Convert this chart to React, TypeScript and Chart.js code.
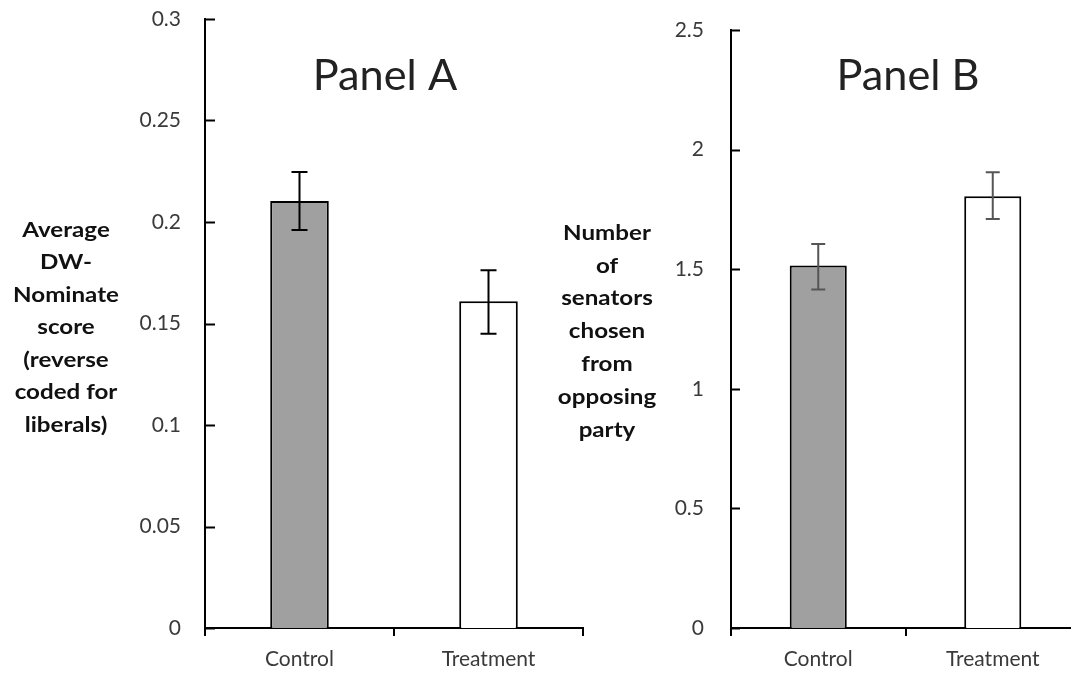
import React, { useEffect, useRef } from "react";
import { Chart, registerables } from "chart.js";

Chart.register(...registerables);

const categories = ["Control", "Treatment"];

const panelAValues = [0.2103, 0.161];
const panelAErrLow = [0.196, 0.145];
const panelAErrHigh = [0.2246, 0.1762];
const panelATickLabels = ["0", "0.05", "0.1", "0.15", "0.2", "0.25", "0.3"];
const panelAYLabel = ["Average", "DW-", "Nominate", "score", "(reverse", "coded for", "liberals)"];

const panelBValues = [1.515, 1.805];
const panelBErrLow = [1.415, 1.71];
const panelBErrHigh = [1.605, 1.905];
const panelBTickLabels = ["0", "0.5", "1", "1.5", "2", "2.5"];
const panelBYLabel = ["Number", "of", "senators", "chosen", "from", "opposing", "party"];

const barColors = ["#a0a0a0", "#ffffff"];
const FONT = "Lato, 'Open Sans', sans-serif";

const decorPlugin = {
  id: "panelDecor",
  afterDraw(chart: any, _args: any, opts: any) {
    const { ctx, chartArea, scales } = chart;
    const y = scales.y;
    ctx.save();
    // inward y ticks
    ctx.strokeStyle = "#000";
    ctx.lineWidth = 2;
    y.ticks.forEach((t: any) => {
      const py = Math.round(y.getPixelForValue(t.value)) + 0.5;
      ctx.beginPath();
      ctx.moveTo(chartArea.left, py);
      ctx.lineTo(chartArea.left + opts.tickLen, py);
      ctx.stroke();
    });
    // error bars
    const meta = chart.getDatasetMeta(0);
    ctx.strokeStyle = opts.errColor;
    ctx.lineWidth = 2;
    opts.low.forEach((lo: number, i: number) => {
      const hi = opts.high[i];
      const x = meta.data[i].x;
      const yl = y.getPixelForValue(lo);
      const yh = y.getPixelForValue(hi);
      ctx.beginPath();
      ctx.moveTo(x, yl);
      ctx.lineTo(x, yh);
      ctx.moveTo(x - opts.cap, yl);
      ctx.lineTo(x + opts.cap, yl);
      ctx.moveTo(x - opts.cap, yh);
      ctx.lineTo(x + opts.cap, yh);
      ctx.stroke();
    });
    // title
    ctx.fillStyle = "#222";
    ctx.font = `400 42px ${FONT}`;
    ctx.textAlign = "center";
    ctx.textBaseline = "alphabetic";
    ctx.save();
    ctx.translate(opts.titleX, opts.titleY);
    ctx.scale(1.03, 1);
    ctx.fillText(opts.title, 0, 0);
    ctx.restore();
    // y label
    ctx.fillStyle = "#111";
    ctx.font = `700 21px ${FONT}`;
    ctx.textBaseline = "middle";
    opts.yLabel.forEach((line: string, i: number) => {
      ctx.save();
      ctx.translate(opts.labelX, opts.labelY + i * opts.lineGap);
      ctx.scale(1.15, 1);
      ctx.fillText(line, 0, 0);
      ctx.restore();
    });
    ctx.restore();
  },
};

function makeConfig(p: any) {
  return {
    type: "bar",
    data: {
      labels: categories,
      datasets: [
        {
          data: p.values,
          backgroundColor: barColors,
          borderColor: "#000",
          borderWidth: 2,
          categoryPercentage: 1,
          barPercentage: p.barPct,
        },
      ],
    },
    options: {
      responsive: false,
      animation: false,
      layout: { padding: { left: 0, right: p.padRight, top: p.padTop, bottom: 0 } },
      plugins: {
        legend: { display: false },
        tooltip: { enabled: false },
        panelDecor: p.decor,
      },
      scales: {
        x: {
          afterFit: (s: any) => {
            s.height = 47;
            s.paddingLeft = 0;
            s.paddingRight = 0;
          },
          grid: {
            display: true,
            drawOnChartArea: false,
            drawTicks: true,
            tickLength: 8,
            color: "#000",
            lineWidth: 2,
            offset: true,
          },
          border: { display: true, color: "#000", width: 2 },
          ticks: { color: "#3a3a3a", font: { family: FONT, size: 21 }, padding: 11 },
        },
        y: {
          min: 0,
          max: p.max,
          afterFit: (s: any) => {
            s.width = p.axisWidth;
            s.paddingTop = 0;
            s.paddingBottom = 0;
          },
          afterBuildTicks: (s: any) => {
            s.ticks = p.tickLabels.map((l: string) => ({ value: parseFloat(l) }));
          },
          grid: { display: false, drawTicks: false },
          border: { display: true, color: "#000", width: 2 },
          ticks: {
            color: "#3a3a3a",
            font: { family: FONT, size: 21 },
            padding: p.tickPad,
            callback: (v: any) => p.tickLabels.find((l: string) => parseFloat(l) === v) ?? String(v),
          },
        },
      },
    },
    plugins: [decorPlugin],
  } as any;
}

function Panel(props: { left: number; width: number; cfg: any }) {
  const ref = useRef<HTMLCanvasElement>(null);
  useEffect(() => {
    const chart = new Chart(ref.current as HTMLCanvasElement, props.cfg);
    return () => chart.destroy();
  }, []);
  return (
    <canvas
      ref={ref}
      width={props.width}
      height={675}
      style={{ position: "absolute", left: props.left, top: 0, width: props.width, height: 675 }}
    />
  );
}

export default function App() {
  const cfgA = makeConfig({
    values: panelAValues,
    max: 0.3,
    tickLabels: panelATickLabels,
    barPct: 0.31,
    axisWidth: 205,
    padRight: 17,
    padTop: 19,
    tickPad: 24,
    decor: {
      tickLen: 10,
      errColor: "#000",
      cap: 8,
      low: panelAErrLow,
      high: panelAErrHigh,
      title: "Panel A",
      titleX: 385,
      titleY: 90,
      yLabel: panelAYLabel,
      labelX: 66,
      labelY: 230,
      lineGap: 32.5,
    },
  });
  const cfgB = makeConfig({
    values: panelBValues,
    max: 2.5,
    tickLabels: panelBTickLabels,
    barPct: 0.327,
    axisWidth: 201,
    padRight: 0,
    padTop: 30,
    tickPad: 27,
    decor: {
      tickLen: 9,
      errColor: "#555",
      cap: 7,
      low: panelBErrLow,
      high: panelBErrHigh,
      title: "Panel B",
      titleX: 378,
      titleY: 90,
      yLabel: panelBYLabel,
      labelX: 77,
      labelY: 233,
      lineGap: 32.8,
    },
  });
  return (
    <div
      style={{
        position: "absolute",
        left: 0,
        top: 0,
        width: 1071,
        height: 675,
        overflow: "hidden",
        background: "#fff",
      }}
    >
      <Panel left={0} width={600} cfg={cfgA} />
      <Panel left={530} width={550} cfg={cfgB} />
    </div>
  );
}
